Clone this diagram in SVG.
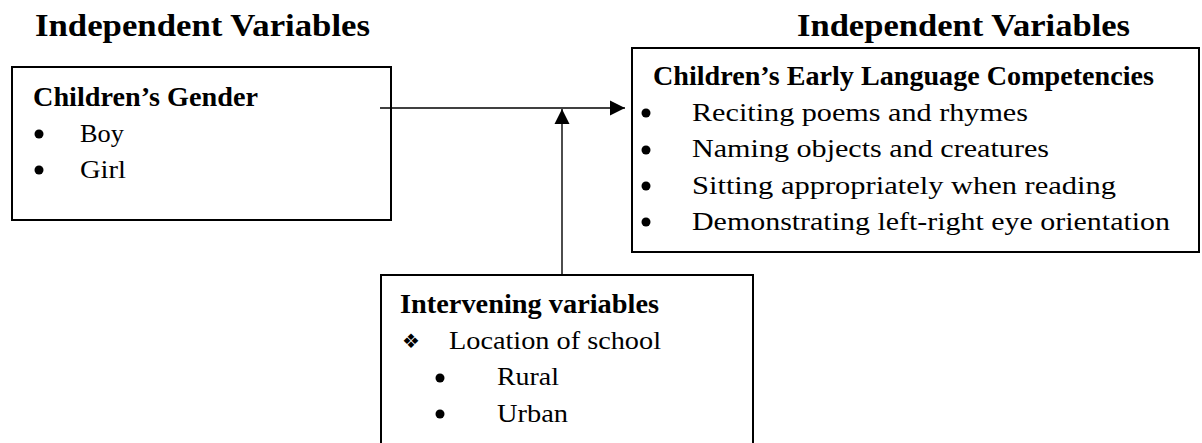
<svg xmlns="http://www.w3.org/2000/svg" width="1202" height="443" viewBox="0 0 1202 443">
<style>
.box{fill:#fff;stroke:#000;stroke-width:2}
.t{font-family:"Liberation Serif","Times New Roman",serif;fill:#000}
.title{font-size:32px;font-weight:bold}
.head{font-size:27px;font-weight:bold}
.body{font-size:25px}
.conn{stroke:#000;stroke-width:1.4;fill:none}
</style>
<defs>
<marker id="ah" markerWidth="16" markerHeight="16" refX="15" refY="8" orient="auto" markerUnits="userSpaceOnUse">
<path d="M0,0.5 L15,8 L0,15.5 Z" fill="#000"/>
</marker>
</defs>
<g id="titles">
<text class="t title" x="35" y="36" textLength="335" lengthAdjust="spacingAndGlyphs">Independent Variables</text>
<text class="t title" x="797" y="36" textLength="333" lengthAdjust="spacingAndGlyphs">Independent Variables</text>
</g>
<g id="gender">
<rect class="box" x="12" y="67" width="379" height="153"/>
<text class="t head" x="33" y="106" textLength="225" lengthAdjust="spacingAndGlyphs">Children’s Gender</text>
<circle cx="39" cy="134" r="4.5"/>
<text class="t body" x="80" y="142" textLength="44" lengthAdjust="spacingAndGlyphs">Boy</text>
<circle cx="39" cy="170" r="4.5"/>
<text class="t body" x="80" y="178" textLength="46" lengthAdjust="spacingAndGlyphs">Girl</text>
</g>
<g id="competencies">
<rect class="box" x="632" y="48" width="567" height="204"/>
<text class="t head" x="653" y="85" textLength="501" lengthAdjust="spacingAndGlyphs">Children’s Early Language Competencies</text>
<circle cx="646" cy="113" r="4.5"/>
<text class="t body" x="692" y="121" textLength="336" lengthAdjust="spacingAndGlyphs">Reciting poems and rhymes</text>
<circle cx="646" cy="150" r="4.5"/>
<text class="t body" x="692" y="157" textLength="357" lengthAdjust="spacingAndGlyphs">Naming objects and creatures</text>
<circle cx="646" cy="186" r="4.5"/>
<text class="t body" x="692" y="194" textLength="424" lengthAdjust="spacingAndGlyphs">Sitting appropriately when reading</text>
<circle cx="646" cy="222" r="4.5"/>
<text class="t body" x="692" y="230" textLength="478" lengthAdjust="spacingAndGlyphs">Demonstrating left-right eye orientation</text>
</g>
<g id="intervening">
<rect class="box" x="381" y="275" width="372" height="180"/>
<text class="t head" x="400" y="313" textLength="259" lengthAdjust="spacingAndGlyphs">Intervening variables</text>
<text x="402" y="348" style="font-family:'DejaVu Sans',sans-serif;font-size:20px">❖</text>
<text class="t body" x="449" y="349" textLength="212" lengthAdjust="spacingAndGlyphs">Location of school</text>
<circle cx="440" cy="378" r="4.5"/>
<text class="t body" x="497" y="385" textLength="62" lengthAdjust="spacingAndGlyphs">Rural</text>
<circle cx="440" cy="414" r="4.5"/>
<text class="t body" x="497" y="422" textLength="71" lengthAdjust="spacingAndGlyphs">Urban</text>
</g>
<g id="connectors">
<line class="conn" x1="380" y1="108" x2="625" y2="108" marker-end="url(#ah)"/>
<line class="conn" x1="562" y1="275" x2="562" y2="109" marker-end="url(#ah)"/>
</g>
</svg>
